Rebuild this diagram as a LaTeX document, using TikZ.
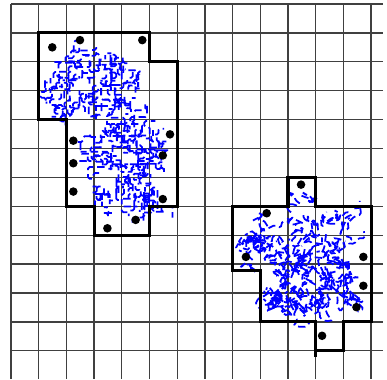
\documentclass[tikz,border=0pt]{standalone}

\begin{document}
\begin{tikzpicture}[x=0.5cm, y=-0.5217cm,
  gridline/.style={black!75, line width=0.65pt},
  region/.style={black, line width=1.6pt, line join=miter},
  walk/.style={blue, line width=0.9pt, rounded corners=0.8pt, dash pattern=on 3.8pt off 2pt},
  sitedot/.style={fill=black}]

  \useasboundingbox (-0.397,-0.138) rectangle (13.574,12.976);

  % ====== grid ======
  \foreach \c in {0,...,13}
    \draw[gridline] (\c,0) -- (\c,12.976);
  \foreach \r in {0,...,12}
    \draw[gridline] (0,\r) -- (13.43,\r);

  % ====== scribbles, left cluster ======
  \pgfmathsetseed{5}
  \foreach \i in {1,...,60}{
    \pgfmathsetmacro\sx{1.45+3.2*rnd}
    \pgfmathsetmacro\sy{1.7+2.0*rnd}
    \draw[walk] (\sx,\sy) \foreach \k in {1,...,8}{ -- ++({90*int(4*rnd)}:0.2)};
  }
  \foreach \i in {1,...,75}{
    \pgfmathsetmacro\sx{2.95+2.3*rnd}
    \pgfmathsetmacro\sy{4.1+3.2*rnd}
    \draw[walk] (\sx,\sy) \foreach \k in {1,...,8}{ -- ++({90*int(4*rnd)}:0.2)};
  }

  % ====== scribbles, right cluster ======
  \foreach \i in {1,...,50}{
    \pgfmathsetmacro\sx{8.45+3.95*rnd}
    \pgfmathsetmacro\sy{7.4+1.6*rnd}
    \draw[walk] (\sx,\sy) \foreach \k in {1,...,6}{ -- ++({360*rnd}:0.24)};
  }
  \foreach \i in {1,...,60}{
    \pgfmathsetmacro\sx{9.35+3.05*rnd}
    \pgfmathsetmacro\sy{9.0+1.65*rnd}
    \draw[walk] (\sx,\sy) \foreach \k in {1,...,6}{ -- ++({360*rnd}:0.24)};
  }
  \foreach \i in {1,...,5}{
    \pgfmathsetmacro\sx{10.2+0.6*rnd}
    \pgfmathsetmacro\sy{6.6+0.5*rnd}
    \draw[walk] (\sx,\sy) \foreach \k in {1,...,4}{ -- ++({360*rnd}:0.2)};
  }

  % ====== outlines ======
  \draw[region] (1,1) -- (5,1) -- (5,2) -- (6,2) -- (6,7) -- (5,7) -- (5,8)
    -- (3,8) -- (3,7) -- (2,7) -- (2,4) -- (1,4) -- cycle;
  \draw[region] (10,6) -- (11,6) -- (11,7) -- (13,7) -- (13,11) -- (12,11)
    -- (12,12) -- (11,12) -- (11,11) -- (9,11) -- (9,9.23) -- (8,9.23)
    -- (8,7) -- (10,7) -- cycle;
  \draw[region] (11,12) -- (11,12.22);

  % ====== dots ======
  \foreach \p in {(1.49,1.50), (2.49,1.25), (4.74,1.25), (5.74,4.51),
                  (5.48,5.24), (2.25,4.73), (2.25,5.51), (2.25,6.49),
                  (5.48,6.75), (4.50,7.47), (3.48,7.76)}
    \fill[sitedot] \p circle (2.2pt);
  \foreach \p in {(10.47,6.25), (9.23,7.24), (8.48,8.75), (12.72,8.75),
                  (12.72,9.75), (12.47,10.49), (11.23,11.48)}
    \fill[sitedot] \p circle (2.2pt);

\end{tikzpicture}
\end{document}
